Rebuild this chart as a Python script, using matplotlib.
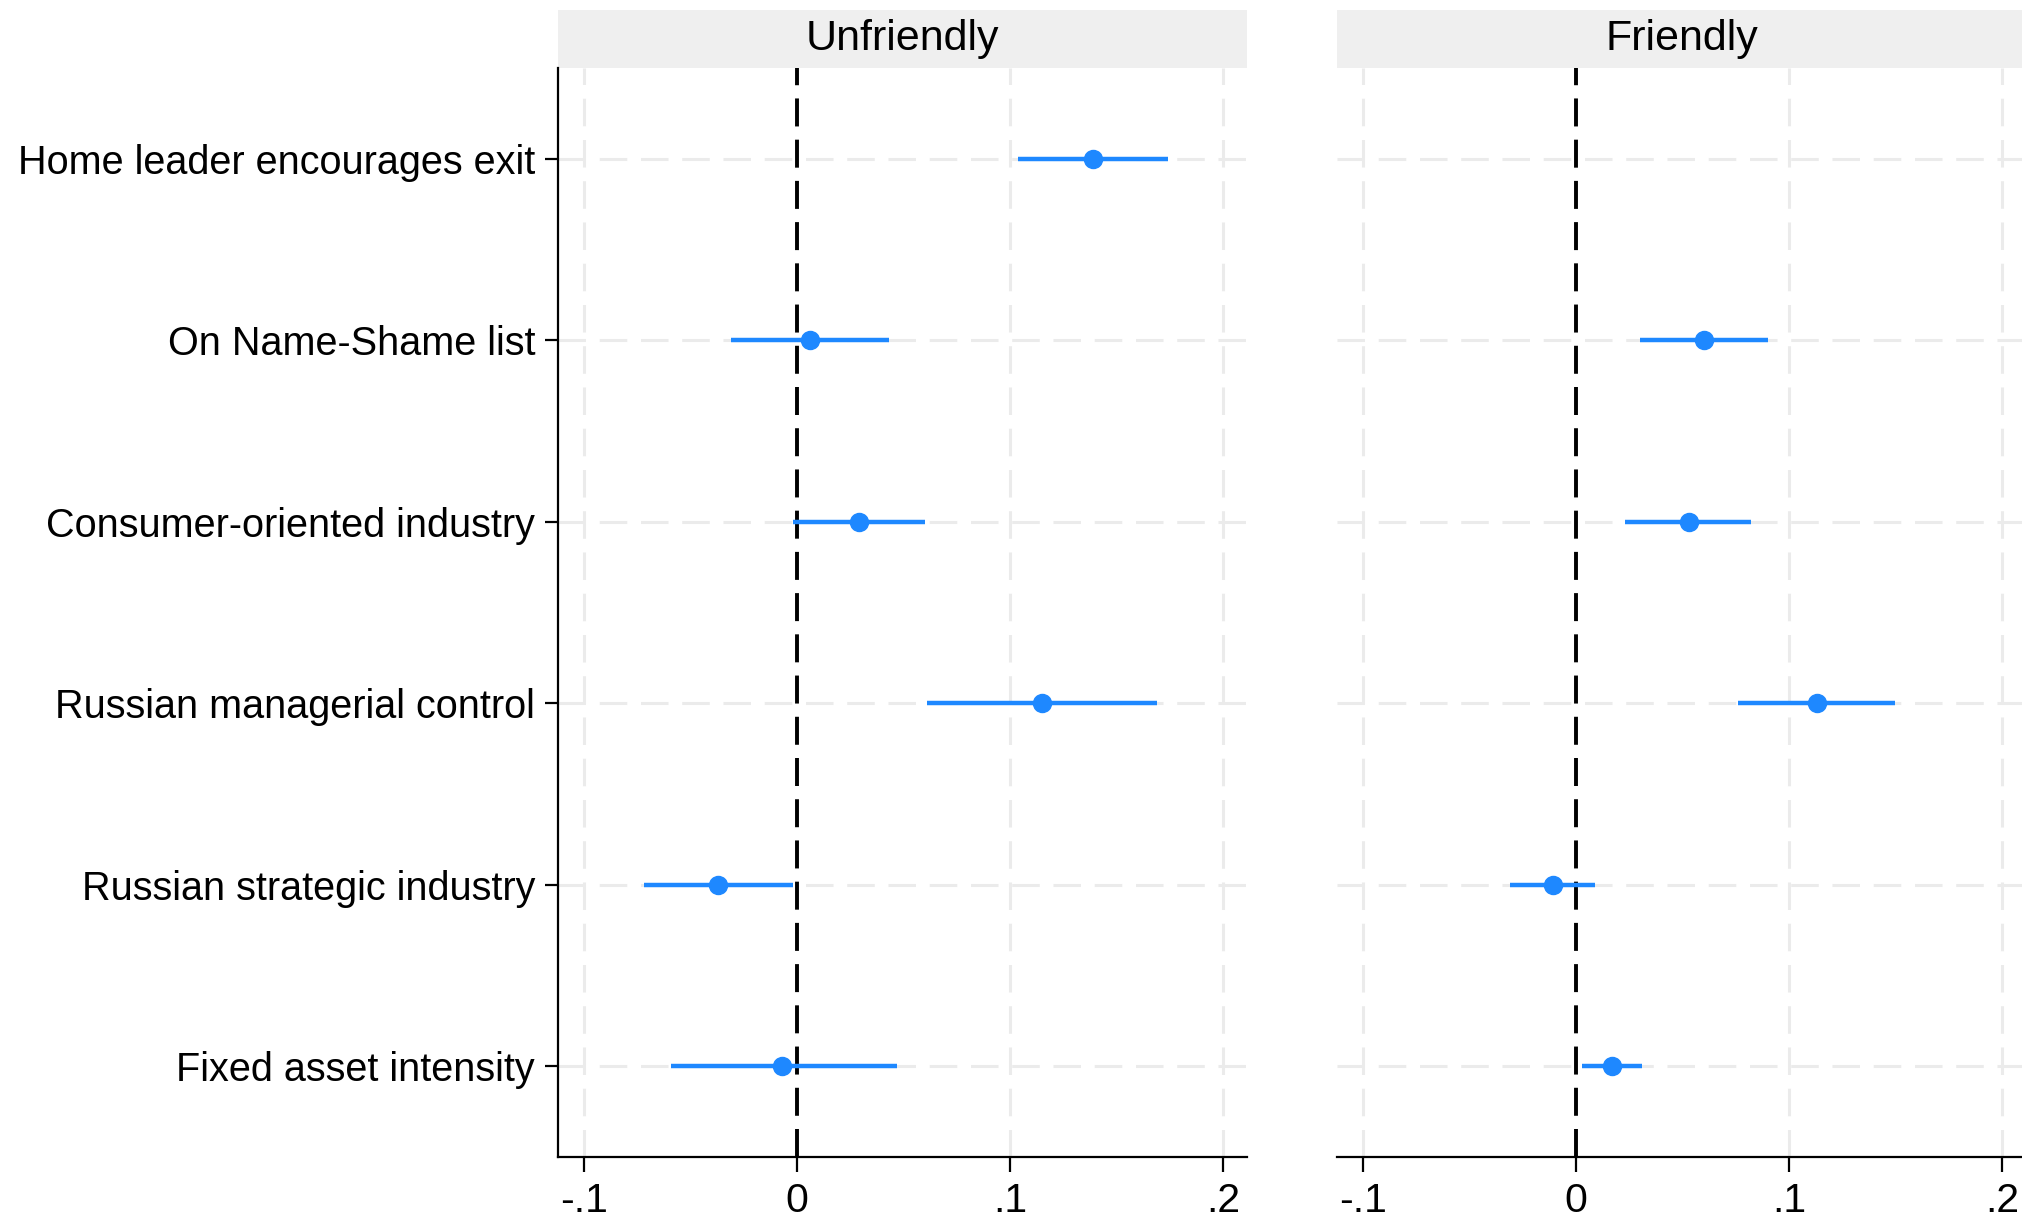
import numpy as np
import matplotlib
matplotlib.use('Agg')
import matplotlib.pyplot as plt
from matplotlib.patches import Rectangle

plt.rcParams['font.family'] = ['Liberation Sans', 'DejaVu Sans']

# coefficient estimates and confidence bounds, top row first
labels = ['Home leader encourages exit', 'On Name-Shame list', 'Consumer-oriented industry',
          'Russian managerial control', 'Russian strategic industry', 'Fixed asset intensity']

unfriendly_coef = [0.139, 0.006, 0.029, 0.115, -0.037, -0.007]
unfriendly_lo = [0.104, -0.031, -0.002, 0.061, -0.072, -0.059]
unfriendly_hi = [0.174, 0.043, 0.060, 0.169, -0.002, 0.047]

friendly_coef = [np.nan, 0.060, 0.053, 0.113, -0.011, 0.017]
friendly_lo = [np.nan, 0.030, 0.023, 0.076, -0.031, 0.003]
friendly_hi = [np.nan, 0.090, 0.082, 0.150, 0.009, 0.031]

xticks = [-0.1, 0, 0.1, 0.2]
xticklabels = ['-.1', '0', '.1', '.2']

BLUE = '#1E88FF'
GRID = '#EBEBEB'
STRIP = '#EFEFEF'

W, H = 2022, 1220
fig = plt.figure(figsize=(W / 100, H / 100), dpi=100)

bottom = 1 - 1157 / H
top = 1 - 68 / H
width = 689 / W
ax1 = fig.add_axes([558 / W, bottom, width, top - bottom])
ax2 = fig.add_axes([1337 / W, bottom, width, top - bottom])

rows = np.arange(1, len(labels) + 1)
strip_h = 58 / 1089


def panel(ax, coef, lo, hi, title, show_y):
    ax.set_xlim(-0.1122, 0.2113)
    ax.set_ylim(6.5, 0.5)

    for x in xticks:
        if x != 0:
            ax.axvline(x, color=GRID, lw=2.2, dashes=(9, 4.5), zorder=0)
    for y in rows:
        ax.axhline(y, color=GRID, lw=2.2, dashes=(9, 4.5), zorder=0)
    ax.axvline(0, color='black', lw=2.8, dashes=(7.2, 3.4), zorder=1)

    ax.hlines(rows, lo, hi, color=BLUE, lw=3.2, zorder=2)
    ax.plot(coef, rows, 'o', color=BLUE, ms=13, zorder=3)

    ax.set_xticks(xticks)
    ax.set_xticklabels(xticklabels, fontsize=29.5)
    ax.tick_params(axis='x', direction='out', length=11, width=1.6, pad=7)
    ax.spines['top'].set_visible(False)
    ax.spines['right'].set_visible(False)
    ax.spines['bottom'].set_linewidth(1.6)

    if show_y:
        ax.set_yticks(rows)
        ax.set_yticklabels(labels, fontsize=28.5)
        ax.tick_params(axis='y', direction='out', length=9.5, width=1.6, pad=7)
        ax.spines['left'].set_linewidth(1.6)
    else:
        ax.set_yticks([])
        ax.spines['left'].set_visible(False)

    ax.add_patch(Rectangle((0, 1), 1, strip_h, transform=ax.transAxes,
                           facecolor=STRIP, edgecolor='none', clip_on=False))
    ax.text(0.5, 1 + strip_h / 2, title, transform=ax.transAxes,
            ha='center', va='center', fontsize=31)


panel(ax1, unfriendly_coef, unfriendly_lo, unfriendly_hi, 'Unfriendly', True)
panel(ax2, friendly_coef, friendly_lo, friendly_hi, 'Friendly', False)

plt.savefig('out.png', dpi=100)
